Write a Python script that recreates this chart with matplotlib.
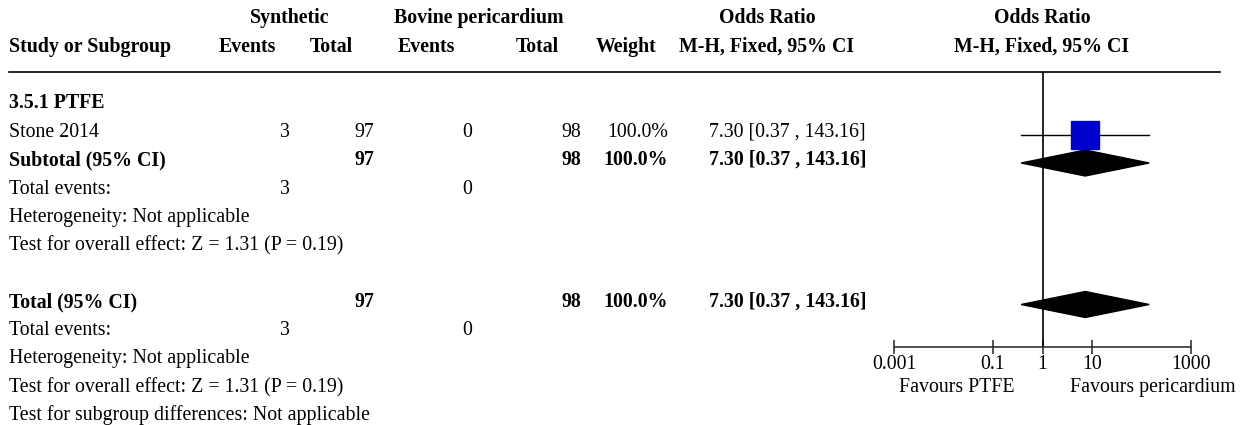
import matplotlib
matplotlib.use('Agg')
import matplotlib.pyplot as plt

plt.rcParams['font.family'] = ['Liberation Serif', 'DejaVu Serif']
plt.rcParams['font.size'] = 14.3

# данные
studies = ['Stone 2014']
syn_events = [3]
syn_total = [97]
bov_events = [0]
bov_total = [98]
weights = [100.0]
odds = [7.30]
ci_low = [0.37]
ci_high = [143.16]

sub_or, sub_lo, sub_hi = 7.30, 0.37, 143.16
tot_or, tot_lo, tot_hi = 7.30, 0.37, 143.16
tick_vals = [0.001, 0.1, 1, 10, 1000]
tick_labels = ['0.001', '0.1', '1', '10', '1000']

W, H = 1244, 425
fig = plt.figure(figsize=(W / 100, H / 100), dpi=100)
ax = fig.add_axes([0, 0, 1, 1])
ax.set_xlim(0, W)
ax.set_ylim(H, 0)
ax.axis('off')


def txt(x, y, s, ha='left', bold=False):
    # y - базовая линия текста в пикселях
    ax.text(x, y, s, ha=ha, va='baseline', fontweight='bold' if bold else 'normal')


# шапка
txt(290, 23, 'Synthetic', 'center', True)
txt(479, 23, 'Bovine pericardium', 'center', True)
txt(767, 23, 'Odds Ratio', 'center', True)
txt(1042, 23, 'Odds Ratio', 'center', True)
txt(9, 52, 'Study or Subgroup', bold=True)
txt(247, 52, 'Events', 'center', True)
txt(331, 52, 'Total', 'center', True)
txt(426, 52, 'Events', 'center', True)
txt(537, 52, 'Total', 'center', True)
txt(656, 52, 'Weight', 'right', True)
txt(767, 52, 'M-H, Fixed, 95% CI', 'center', True)
txt(1042, 52, 'M-H, Fixed, 95% CI', 'center', True)
ax.plot([9, 1220], [72, 72], color='black', lw=1.2)

# строки
txt(9, 108, '3.5.1 PTFE', bold=True)
rows_y = [137]
for i, s in enumerate(studies):
    y = rows_y[i]
    txt(9, y, s)
    txt(290, y, str(syn_events[i]), 'right')
    txt(374, y, str(syn_total[i]), 'right')
    txt(472, y, str(bov_events[i]), 'right')
    txt(581, y, str(bov_total[i]), 'right')
    txt(668, y, f'{weights[i]:.1f}%', 'right')
    txt(709, y, f'{odds[i]:.2f} [{ci_low[i]:.2f} , {ci_high[i]:.2f}]')

txt(9, 165, 'Subtotal (95% CI)', bold=True)
txt(374, 165, str(sum(syn_total)), 'right', True)
txt(581, 165, str(sum(bov_total)), 'right', True)
txt(668, 165, f'{sum(weights):.1f}%', 'right', True)
txt(709, 165, f'{sub_or:.2f} [{sub_lo:.2f} , {sub_hi:.2f}]', bold=True)
txt(9, 194, 'Total events:')
txt(290, 194, str(sum(syn_events)), 'right')
txt(472, 194, str(sum(bov_events)), 'right')
txt(9, 222, 'Heterogeneity: Not applicable')
txt(9, 250, 'Test for overall effect: Z = 1.31 (P = 0.19)')

txt(9, 307, 'Total (95% CI)', bold=True)
txt(374, 307, str(sum(syn_total)), 'right', True)
txt(581, 307, str(sum(bov_total)), 'right', True)
txt(668, 307, f'{sum(weights):.1f}%', 'right', True)
txt(709, 307, f'{tot_or:.2f} [{tot_lo:.2f} , {tot_hi:.2f}]', bold=True)
txt(9, 335, 'Total events:')
txt(290, 335, str(sum(syn_events)), 'right')
txt(472, 335, str(sum(bov_events)), 'right')
txt(9, 363, 'Heterogeneity: Not applicable')
txt(9, 392, 'Test for overall effect: Z = 1.31 (P = 0.19)')
txt(9, 420, 'Test for subgroup differences: Not applicable')

txt(957, 392, 'Favours PTFE', 'center')
txt(1153, 392, 'Favours pericardium', 'center')

# forest
x0, x1, ytop, ybot = 894, 1191, 72, 347
fa = fig.add_axes([x0 / W, 1 - ybot / H, (x1 - x0) / W, (ybot - ytop) / H])
fa.set_xscale('log')
fa.set_xlim(0.001, 1000)
fa.set_ylim(ybot, ytop)
fa.patch.set_alpha(0)
for sp in ['top', 'left', 'right']:
    fa.spines[sp].set_visible(False)
fa.spines['bottom'].set_linewidth(1.2)
fa.spines['bottom'].set_color('#333333')
fa.set_yticks([])
fa.set_xticks(tick_vals)
fa.set_xticklabels(tick_labels)
fa.minorticks_off()
fa.tick_params(axis='x', direction='inout', length=10, width=1.2, color='#333333', pad=1)
fa.axvline(1, color='black', lw=1.2)

for i in range(len(studies)):
    y = rows_y[i] - 2.5
    fa.plot([ci_low[i], ci_high[i]], [y, y], color='black', lw=1)
    fa.plot(odds[i], y, marker='s', color='#0000cc', markersize=19.5, ls='none')

for y, o, lo, hi in [(163, sub_or, sub_lo, sub_hi), (304.5, tot_or, tot_lo, tot_hi)]:
    fa.fill([lo, o, hi, o], [y, y - 13, y, y + 13], color='black')

fig.savefig('out.png', dpi=100)
